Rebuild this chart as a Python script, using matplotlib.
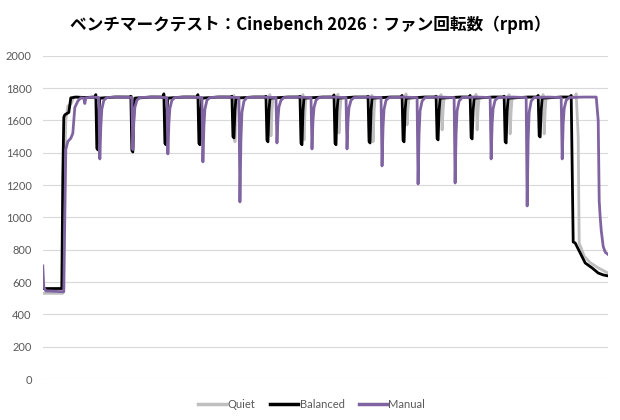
import matplotlib.pyplot as plt

plt.rcParams['font.family'] = ['Lato', 'Noto Sans CJK JP', 'DejaVu Sans']

# Время (сэмплы) и обороты вентилятора (rpm) для каждого режима
quiet = [
    (0, 530), (20, 530), (21, 1000), (23, 1600), (25, 1690), (28, 1700), (31, 1745), (45, 1742),
    (53, 1745), (54, 1748), (55, 1440), (56, 1650), (57, 1738), (72, 1745),
    (88, 1745), (89, 1748), (90, 1430), (91, 1650), (92, 1740), (108, 1745),
    (121, 1745), (122, 1750), (123, 1470), (124, 1660), (125, 1740), (140, 1745),
    (155, 1745), (156, 1748), (157, 1470), (158, 1660), (159, 1740), (175, 1745),
    (190, 1745), (191, 1755), (192, 1468), (193, 1640), (194, 1740), (210, 1745),
    (226, 1745), (227, 1760), (228, 1505), (229, 1660), (230, 1740), (245, 1745),
    (259, 1745), (260, 1760), (261, 1480), (262, 1650), (263, 1740), (280, 1745),
    (294, 1745), (295, 1762), (296, 1523), (297, 1660), (298, 1740), (312, 1745),
    (328, 1745), (329, 1755), (330, 1468), (331, 1650), (332, 1740), (348, 1745),
    (362, 1745), (363, 1765), (364, 1573), (365, 1680), (366, 1740), (382, 1745),
    (397, 1745), (398, 1760), (399, 1542), (400, 1670), (401, 1740), (417, 1745),
    (432, 1745), (433, 1762), (434, 1542), (435, 1670), (436, 1740), (450, 1745),
    (465, 1745), (466, 1760), (467, 1517), (468, 1660), (469, 1740), (485, 1745),
    (499, 1745), (500, 1760), (501, 1517), (502, 1660), (503, 1740), (518, 1745),
    (532, 1745), (533, 1765), (535, 1500), (536, 840), (538, 810), (541, 760),
    (547, 720), (555, 688), (565, 655),
]

balanced = [
    (0, 560), (19, 560), (20, 1250), (21, 1620), (22, 1635), (26, 1650), (28, 1740), (33, 1745),
    (42, 1742), (52, 1745), (53, 1760), (54, 1428), (55, 1418), (56, 1660), (57, 1738), (72, 1745),
    (87, 1745), (88, 1750), (89, 1415), (90, 1405), (91, 1660), (92, 1738), (108, 1745),
    (120, 1745), (121, 1765), (122, 1460), (123, 1450), (124, 1660), (125, 1738), (140, 1745),
    (154, 1745), (155, 1760), (156, 1460), (157, 1450), (158, 1660), (159, 1738), (175, 1745),
    (188, 1745), (189, 1750), (190, 1500), (191, 1492), (192, 1660), (193, 1738), (210, 1745),
    (222, 1745), (223, 1750), (224, 1478), (225, 1468), (226, 1660), (227, 1738), (245, 1745),
    (256, 1745), (257, 1750), (258, 1460), (259, 1450), (260, 1660), (261, 1738), (280, 1745),
    (290, 1745), (291, 1758), (292, 1460), (293, 1450), (294, 1660), (295, 1738), (312, 1745),
    (324, 1745), (325, 1750), (326, 1470), (327, 1461), (328, 1660), (329, 1738), (348, 1745),
    (358, 1745), (359, 1755), (360, 1478), (361, 1468), (362, 1660), (363, 1738), (382, 1745),
    (392, 1745), (393, 1750), (394, 1490), (395, 1480), (396, 1660), (397, 1738), (417, 1745),
    (426, 1745), (427, 1755), (428, 1495), (429, 1486), (430, 1660), (431, 1738), (450, 1745),
    (460, 1745), (461, 1750), (462, 1470), (463, 1461), (464, 1660), (465, 1738), (485, 1745),
    (494, 1745), (495, 1755), (496, 1505), (497, 1498), (498, 1660), (499, 1738), (518, 1745),
    (527, 1745), (528, 1755), (530, 848), (532, 842), (537, 780), (542, 718),
    (549, 687), (555, 656), (560, 644), (565, 638),
]

manual = [
    (0, 700), (1, 570), (3, 545), (21, 540), (22, 1000), (23, 1420), (25, 1470), (28, 1490),
    (30, 1520), (32, 1680), (35, 1720), (38, 1740), (41, 1738), (42, 1705), (43, 1740), (50, 1745),
    (56, 1742), (57, 1362), (58, 1560), (59, 1670), (61, 1725), (64, 1742), (75, 1745),
    (89, 1742), (90, 1420), (91, 1590), (92, 1680), (94, 1725), (97, 1742), (110, 1745),
    (124, 1742), (125, 1393), (126, 1580), (127, 1675), (129, 1725), (132, 1742), (145, 1745),
    (159, 1742), (160, 1344), (161, 1560), (162, 1670), (164, 1725), (167, 1742), (180, 1745),
    (196, 1742), (197, 1096), (198, 1480), (199, 1650), (201, 1720), (204, 1742), (218, 1745),
    (233, 1742), (234, 1461), (235, 1610), (236, 1685), (238, 1725), (241, 1742), (255, 1745),
    (268, 1742), (269, 1424), (270, 1600), (271, 1680), (273, 1725), (276, 1742), (290, 1745),
    (303, 1742), (304, 1424), (305, 1600), (306, 1680), (308, 1725), (311, 1742), (325, 1745),
    (338, 1742), (339, 1319), (340, 1560), (341, 1670), (343, 1725), (346, 1742), (360, 1745),
    (374, 1742), (375, 1207), (376, 1520), (377, 1660), (379, 1720), (382, 1742), (396, 1745),
    (411, 1742), (412, 1213), (413, 1520), (414, 1660), (416, 1720), (419, 1742), (433, 1745),
    (447, 1742), (448, 1362), (449, 1580), (450, 1675), (452, 1725), (455, 1742), (470, 1745),
    (483, 1742), (484, 1071), (485, 1480), (486, 1650), (488, 1720), (491, 1742), (505, 1745),
    (518, 1742), (519, 1362), (520, 1580), (521, 1675), (523, 1725), (526, 1742), (540, 1745),
    (553, 1745), (555, 1600), (556, 1100), (557, 1000), (558, 920), (560, 820), (562, 785),
    (565, 770),
]

series = [
    ('Quiet', quiet, '#BFBFBF'),
    ('Balanced', balanced, '#000000'),
    ('Manual', manual, '#8064A2'),
]

fig = plt.figure(figsize=(6.2, 4.2), dpi=100)
ax = fig.add_axes([0.069, 0.0976, 0.912, 0.7694])

for name, data, color in series:
    t, rpm = zip(*data)
    ax.plot(t, rpm, color=color, lw=2.0, label=name, solid_joinstyle='round')

ax.set_xlim(0, 565)
ax.set_ylim(0, 2000)
ax.set_yticks(range(0, 2001, 200))
ax.set_xticks([])
ax.grid(axis='y', color='#D9D9D9', lw=0.8)
ax.set_axisbelow(True)
for s in ax.spines.values():
    s.set_visible(False)
ax.tick_params(axis='y', length=0, pad=8, labelsize=8, labelcolor='#595959')

fig.suptitle('ベンチマークテスト：Cinebench 2026：ファン回転数（rpm）',
             x=0.5, y=0.963, fontsize=12, fontweight='bold',
             family=['Noto Sans CJK JP', 'DejaVu Sans'])

leg = fig.legend(loc='center', bbox_to_anchor=(0.503, 0.038), ncol=3, frameon=False,
                 fontsize=8, handlelength=2.5, handletextpad=0.15, columnspacing=1.3)
for line in leg.get_lines():
    line.set_linewidth(2.5)
for txt in leg.get_texts():
    txt.set_color('#595959')

fig.savefig('out.png', dpi=100)
